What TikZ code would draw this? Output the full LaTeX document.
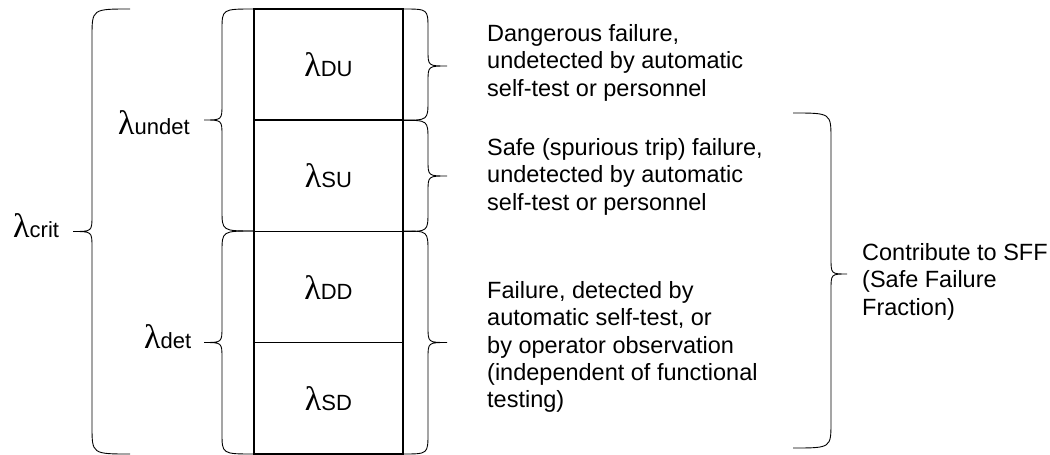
\documentclass[tikz,border=0pt]{standalone}
\usepackage{fontspec}
\setmainfont{Liberation Sans}
\newfontfamily\greekfont{Liberation Serif}
\usetikzlibrary{positioning}

% lambda with its index set beside it
\newcommand{\rate}[1]{{\fontsize{34}{34}\greekfont λ}{\fontsize{22}{22}\selectfont #1}}

\tikzset{
	cell/.style={draw, line width=1.5pt, minimum width=149pt, minimum height=111.25pt, inner sep=0pt, outer sep=0pt},
	note/.style={align=left, anchor=north west, inner sep=0pt, font=\fontsize{23.5}{27.4}\selectfont},
	rlabel/.style={anchor=base west, inner sep=0pt},
	% reach up, reach down, straight part, tip, corner
	pics/curly/.style n args={5}{code={
		\draw[line width=0.9pt] (0,-#1) .. controls (#3,-#1) .. (#3,-#1+#5) -- (#3,-16) .. controls (#3,0) .. (#3+#4,0)
			.. controls (#3,0) .. (#3,16) -- (#3,#2-#5) .. controls (#3,#2) .. (0,#2);
	}}
}

\begin{document}
\begin{tikzpicture}[x=1pt, y=-1pt]
	\useasboundingbox (0,0) rectangle (1050,455);

	% the four rates
	\node [cell] (DU) at (328.5,64.6) {\rate{DU}};
	\node [cell, below=0pt of DU] (SU) {\rate{SU}};
	\node [cell, below=0pt of SU] (DD) {\rate{DD}};
	\node [cell, below=0pt of DD] (SD) {\rate{SD}};

	% braces on the left
	\pic [xscale=-1] at (130,231.5) {curly={222.5}{222.5}{38}{19}{28}};
	\pic [xscale=-1] at (254,120) {curly={111}{111}{32}{18}{21}};
	\pic [xscale=-1] at (254,342.5) {curly={111.5}{111.5}{32}{18}{21}};

	\node [rlabel] (crit) at (13,237) {\rate{crit}};
	\node [rlabel] (undet) at (118,134) {\rate{undet}};
	\node [rlabel] (det) at (144,348) {\rate{det}};

	% braces on the right
	\pic at (403,66) {curly={57}{54.2}{25}{19}{20}};
	\pic at (403,176) {curly={55.7}{55.5}{25}{19}{20}};
	\pic at (403,342.5) {curly={111.5}{111.5}{25}{19}{21}};
	\pic at (793,274) {curly={161}{174}{38}{16}{26}};

	\node [note] (DUtext) at (487,24) {Dangerous failure,\\undetected by automatic\\self-test or personnel};
	\node [note] (SUtext) at (487,138) {Safe (spurious trip) failure,\\undetected by automatic\\self-test or personnel};
	\node [note] (dettext) at (487,281) {Failure, detected by\\automatic self-test, or\\by operator observation\\(independent of functional\\testing)};
	\node [note] (SFF) at (862,243) {Contribute to SFF\\(Safe Failure\\Fraction)};
\end{tikzpicture}
\end{document}
